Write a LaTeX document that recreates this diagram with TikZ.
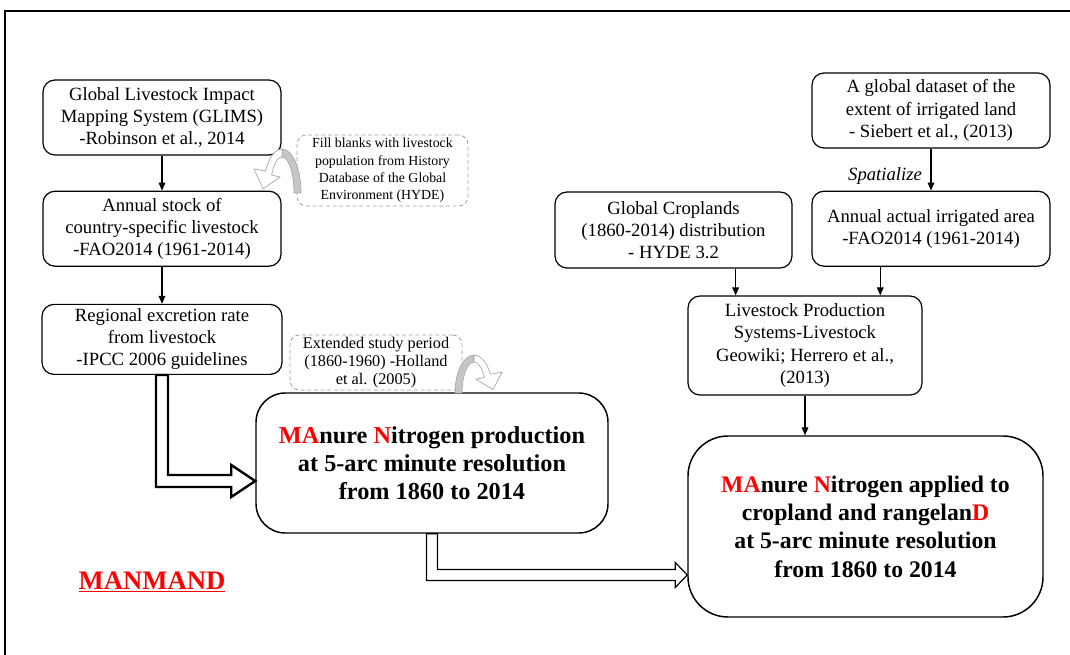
\documentclass[tikz,border=0pt]{standalone}
\usepackage{fontspec}
\setmainfont{Liberation Serif}
\usetikzlibrary{arrows.meta,positioning,calc}

% bent block arrow, drawn round the origin of the current scope
\newcommand\bentarrow{%
  \filldraw[draw=gray!70, fill=gray!45, line width=0.5pt]
    (19,0) arc[start angle=0, end angle=90, x radius=19, y radius=44]
    -- (0,36) arc[start angle=90, end angle=0, x radius=12, y radius=36] -- cycle;
  \filldraw[draw=gray!70, fill=white, line width=0.5pt]
    (0,36) arc[start angle=90, end angle=150, x radius=12, y radius=36]
    -- (-2,16) -- (-19,4) -- (-28,24) -- (-16.45,22)
    arc[start angle=150, end angle=90, x radius=19, y radius=44] -- cycle;}

\begin{document}
\begin{tikzpicture}[
  x=0.75pt, y=0.75pt,
  box/.style={draw, line width=0.9pt, rounded corners=9pt, align=center, inner sep=2pt,
              font=\fontsize{14}{16.6}\selectfont, minimum width=178.5pt, minimum height=56.25pt},
  hint/.style={draw=gray!75, densely dashed, line width=0.6pt, rounded corners=7pt,
               align=center, inner sep=1pt, font=\fontsize{10.4}{13}\selectfont},
  result/.style={draw, line width=1.1pt, align=center, inner sep=2pt,
                 font=\bfseries\fontsize{18.2}{21}\selectfont},
  arr/.style={-{Triangle[length=6pt, width=5pt]}, line width=0.9pt},
  hollow/.style={draw, fill=white, line join=miter}
]
\useasboundingbox (0,0) rectangle (1070,-655);
\draw[line width=1.6pt] (5,-655) -- (5,-11) -- (1070,-11);

% livestock column
\node[box] (glims) at (162,-117.5) {Global Livestock Impact\\Mapping System (GLIMS)\\-Robinson et al., 2014};
\node[box, below=26.25pt of glims] (stock) {Annual stock of\\country-specific livestock\\-FAO2014 (1961-2014)};
\node[box, minimum width=180pt, minimum height=52.5pt, below=27.75pt of stock] (excr) {Regional excretion rate\\from livestock\\-IPCC 2006 guidelines};
\draw[arr] (glims) -- (stock);
\draw[arr] (stock.south) -- (stock.south |- excr.north);

% notes
\node[hint, minimum width=128.25pt, minimum height=53.25pt] (fill) at (382.5,-170.5) {Fill blanks with livestock\\population from History\\Database of the Global\\Environment (HYDE)};
\node[hint, minimum width=129pt, minimum height=41.25pt, font=\fontsize{12.2}{13.2}\selectfont] (ext) at (376,-362.5) {Extended study period\\(1860-1960) -Holland\\et al. (2005)};

% products
\node[result, rounded corners=22pt, minimum width=264pt, minimum height=105pt] (manure) at (432,-463)
  {\textcolor{red}{MA}nure \textcolor{red}{N}itrogen production\\at 5-arc minute resolution\\from 1860 to 2014};
\node[result, rounded corners=30pt, minimum width=266.25pt, minimum height=135.75pt, font=\bfseries\fontsize{17.8}{21.3}\selectfont] (applied) at (865.5,-526.5)
  {\textcolor{red}{MA}nure \textcolor{red}{N}itrogen applied to\\cropland and rangelan\textcolor{red}{D}\\at 5-arc minute resolution\\from 1860 to 2014};

% cropland column
\node[box] (dataset) at (931,-110.5) {A global dataset of the\\extent of irrigated land\\- Siebert et al., (2013)};
\node[box, below=31.5pt of dataset] (irr) {Annual actual irrigated area\\-FAO2014 (1961-2014)};
\node[box, minimum width=177.75pt, minimum height=57pt] (crop) at (673.5,-230) {Global Croplands\\(1860-2014) distribution\\- HYDE 3.2};
\node[box, minimum width=175.5pt, minimum height=74.25pt] (lps) at (805,-345.5) {Livestock Production\\Systems-Livestock\\Geowiki; Herrero et al.,\\(2013)};
\node[font=\itshape\fontsize{14}{16}\selectfont] (spat) at (885,-176) {Spatialize};
\draw[arr] (dataset) -- (irr);
\coordinate (lpsin1) at ($(lps.north west)!0.205!(lps.north east)$);
\coordinate (lpsin2) at ($(lps.north west)!0.82!(lps.north east)$);
\draw[arr] (lpsin1 |- crop.south) -- (lpsin1);
\draw[arr] (lpsin2 |- irr.south) -- (lpsin2);
\draw[arr] (lps.south) -- (lps.south |- applied.north);

% hollow arrows
\coordinate (t1) at ($(manure.west)+(0,-18)$);
\draw[hollow, line width=1.8pt] ($(excr.south)+(-6,0)$) |- ($(t1)+(-24,-6)$) -- ++(0,-10) -- (t1)
  -- ++(-24,16) -- ++(0,-10) -| ($(excr.south)+(6,0)$) -- cycle;
\coordinate (t2) at ($(applied.west)+(0,-48.5)$);
\draw[hollow, line width=0.9pt] ($(manure.south)+(-5.5,0)$) |- ($(t2)+(-12,-5.5)$) -- ++(0,-7) -- (t2)
  -- ++(-12,12.5) -- ++(0,-7) -| ($(manure.south)+(5.5,0)$) -- cycle;

% bent arrows next to the notes
\begin{scope}[shift={(282,-193)}] \bentarrow \end{scope}
\begin{scope}[shift={(474,-393)}, xscale=-1, yscale=0.86] \bentarrow \end{scope}

\node[font=\bfseries\fontsize{20}{22}\selectfont, text=red] (name) at (152,-582) {\underline{MANMAND}};
\end{tikzpicture}
\end{document}
